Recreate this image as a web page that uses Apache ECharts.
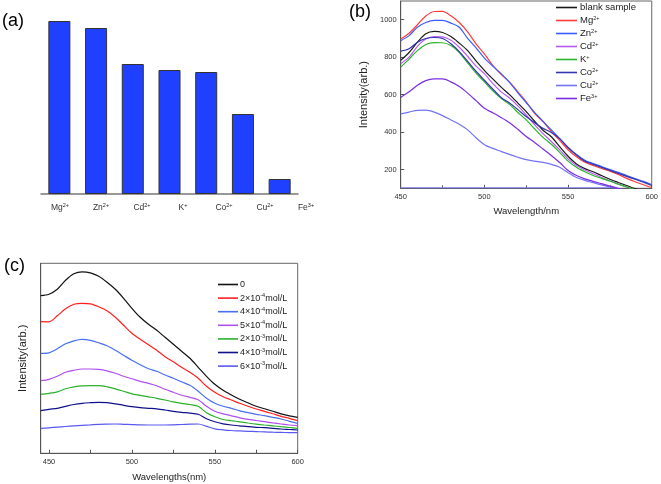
<!DOCTYPE html>
<html><head><meta charset="utf-8">
<script src="https://cdn.jsdelivr.net/npm/echarts@6/dist/echarts.min.js"></script>
<style>html,body{margin:0;padding:0;background:#fff}#c{width:661px;height:484px}</style>
</head><body><div id="c"></div><script>
// ---- Panel (a)
const ionCategories = ['Mg2+','Zn2+','Cd2+','K+','Co2+','Cu2+','Fe3+'];
const barValues = [173,166,130,124,122,80,15];

// ---- Panel (b)
const wavelengthsB = [450,455,460,465,470,475,480,485,490,495,500,505,510,515,520,525,530,535,540,545,550,555,560,565,570,575,580,585,590,595,600];
const blankB = [783,825,880,925,938,932,910,875,835,780,730,684,640,600,555,509,458,410,375,322,271,230,205,188,168,148,131,115,98,85,72];
const mgB = [897,928,973,1020,1044,1045,1021,985,935,871,818,756,708,668,615,562,500,456,403,356,306,268,239,222,206,192,174,153,135,119,104];
const znB = [888,915,960,985,997,997,982,960,900,850,795,752,712,665,610,558,505,458,412,365,318,280,250,232,216,200,185,168,152,137,120];
const cdB = [765,800,858,897,910,908,890,853,805,752,712,660,615,582,540,492,440,392,350,305,257,222,198,178,158,139,123,107,92,80,68];
const kB = [747,790,835,868,878,877,862,825,770,715,668,620,580,548,505,465,418,372,335,292,245,212,188,168,153,139,122,107,92,80,68];
const coB = [832,845,880,900,905,900,872,830,778,725,677,630,585,555,520,483,450,420,398,365,318,278,245,228,212,196,180,164,148,132,115];
const cuB = [497,507,516,517,507,488,465,442,412,370,333,313,297,281,266,253,245,238,228,212,183,158,142,130,118,107,98,88,78,68,58];
const feB = [585,615,650,675,684,684,668,643,608,568,527,503,478,450,415,377,345,310,275,238,195,168,150,137,125,112,100,88,78,68,58];
const baselineWl = [450,577];
const baselineB = [103,103];
const seriesNamesB = ['blank sample','Mg2+','Zn2+','Cd2+','K+','Co2+','Cu2+','Fe3+'];
const yLabelsB = [200,400,600,800,1000];
const xLabelsB = [450,500,550,600];

// ---- Panel (c)
const wavelengthsC = [445,450,455,460,465,470,475,480,485,490,495,500,505,510,515,520,525,530,535,540,545,550,555,560,565,570,575,580,585,590,595,600];
const c0 = [157.6,159,164,173,179.5,181.5,180.5,177,171,164,155,145,136,129,123,116,109,102,95,86,77,69,63,58.3,54,50.5,47,44.5,42,39.5,37.5,36];
const c2e4 = [131.6,131.5,137.5,144.5,149,150,149.5,146.5,142.5,136,128,120,114,108.5,103,96.6,91.5,86,81,75,67,61,56.5,53.3,50,47,44.3,42,39.5,37,35,32.6];
const c4e4 = [100,100.5,104.5,109.5,112.5,114,113,110.5,107.5,103,98,93,88.5,84.5,82,78.3,75,71.5,68,62,55,50,47,45,42.5,40.6,39,37.6,36,34.3,32,30];
const c5e4 = [72.6,74,77,81,83,84.3,84.3,84,82.5,80,77,74.5,72,70,67.5,64,61,58,56,53.5,47,42,39.5,37.5,35.5,34,32.8,31.6,30.4,29.3,28.3,27.6];
const c2e3 = [59,60,61.5,64.5,66.5,67.5,67.6,67.6,66.5,64.5,62,59.5,58,56.5,55,53.3,51.5,50,48.8,47,40.5,36.5,33.8,32.6,31.5,30.3,29.2,28.3,27.5,26.6,25.8,25];
const c4e3 = [42.6,44,45,47,48.8,50,50.6,51,50.6,49.5,48,46.6,45.6,45,44.4,43.3,42,41,40.2,39,34.5,31.5,29.5,28.3,27.5,26.6,26,25.6,25,24.3,23.8,23.3];
const c6e3 = [25,25.5,26.2,26.8,27.4,28,28.5,29,29.2,29.3,29,28.7,28.4,28.3,28.3,28.3,28.5,28.8,29.1,29.3,27,24.5,23.5,22.8,22.4,22,21.7,21.4,21.1,20.9,20.7,20.6];
const seriesNamesC = ['0','2×10-4mol/L','4×10-4mol/L','5×10-4mol/L','2×10-3mol/L','4×10-3mol/L','6×10-3mol/L'];
const xLabelsC = [450,500,550,600];
const xTicksC = [450,475,500,525,550,575,600];

const FONT = 'Liberation Sans, Arial, sans-serif';
const zip = (xs, ys) => xs.map((x, i) => [x, ys[i]]);
function richIon(s) {
  const m = s.match(/^([A-Za-z]+)(\d?[+\-])$/);
  return m ? m[1] + '{s|' + m[2] + '}' : s;
}
function richConc(s) {
  const m = s.match(/^(.*10)(-\d)(mol\/L)$/);
  return m ? m[1] + '{s|' + m[2] + '}' + m[3] : s;
}

const colorsB = ['#1a1a1a','#ff3b3b','#3a5cff','#b55cf0','#2db52d','#3535b0','#7373f5','#7a2ee0'];
const dataB = [blankB, mgB, znB, cdB, kB, coB, cuB, feB];
const colorsC = ['#111111','#ff2020','#4a6ff0','#b050f0','#2cb02c','#10108c','#5a5af0'];
const dataC = [c0, c2e4, c4e4, c5e4, c2e3, c4e3, c6e3];

const seriesList = [];
seriesList.push({
  type: 'bar', xAxisIndex: 0, yAxisIndex: 0, data: barValues, barWidth: '60%',
  itemStyle: { color: '#2040ff', borderColor: '#333', borderWidth: 1 }, silent: true
});
seriesList.push({
  name: 'baseline', type: 'line', xAxisIndex: 2, yAxisIndex: 2, data: zip(baselineWl, baselineB),
  symbol: 'none', lineStyle: { color: '#8080f0', width: 1.2 }, silent: true
});
seriesNamesB.forEach((n, i) => {
  seriesList.push({
    name: n, type: 'line', xAxisIndex: 2, yAxisIndex: 2, data: zip(wavelengthsB, dataB[i]),
    symbol: 'none', smooth: 0.3, color: colorsB[i], lineStyle: { color: colorsB[i], width: 1.2 }, silent: true
  });
});
seriesNamesC.forEach((n, i) => {
  seriesList.push({
    name: n, type: 'line', xAxisIndex: 3, yAxisIndex: 3, data: zip(wavelengthsC, dataC[i]),
    symbol: 'none', smooth: 0.3, color: colorsC[i], lineStyle: { color: colorsC[i], width: 1.2 }, silent: true
  });
});

const supRich = {
  s: { fontSize: 5.5, lineHeight: 6, verticalAlign: 'top', fontFamily: FONT, color: '#222' }
};

const chart = echarts.init(document.getElementById('c'), null, { renderer: 'canvas' });
chart.setOption({
  animation: false,
  backgroundColor: '#fff',
  textStyle: { fontFamily: FONT },
  graphic: [
    { type: 'text', left: 2, top: 12, style: { text: '(a)', fontSize: 18, fontFamily: FONT, fill: '#000' } },
    { type: 'text', left: 349, top: 3, style: { text: '(b)', fontSize: 18, fontFamily: FONT, fill: '#000' } },
    { type: 'text', left: 4, top: 257, style: { text: '(c)', fontSize: 18, fontFamily: FONT, fill: '#000' } }
  ],
  legend: [
    {
      data: seriesNamesB, orient: 'vertical', left: 556, top: 2, padding: 0, icon: 'rect', itemWidth: 21, itemHeight: 1.6, itemGap: 2,
      selectedMode: false, formatter: n => richIon(n),
      textStyle: { fontSize: 9.5, lineHeight: 11, color: '#222', fontFamily: FONT, padding: [0, 0, 0, -2], rich: supRich }
    },
    {
      data: seriesNamesC, orient: 'vertical', left: 218, top: 279, padding: 0, icon: 'rect', itemWidth: 20, itemHeight: 1.6, itemGap: 2.6,
      selectedMode: false, formatter: n => richConc(n),
      textStyle: { fontSize: 9, lineHeight: 11, color: '#222', fontFamily: FONT, padding: [0, 0, 0, -3], rich: supRich }
    }
  ],
  grid: [
    { left: 41, top: 14, width: 257, height: 180 },
    { left: 39.5, top: 14, width: 287, height: 180 },
    { left: 400.7, top: 1, width: 252.3, height: 187.3, show: true, borderColor: '#666', borderWidth: 1 },
    { left: 40.7, top: 263.3, width: 257, height: 190, show: true, borderColor: '#666', borderWidth: 1 }
  ],
  xAxis: [
    { type: 'category', gridIndex: 0, data: ionCategories, boundaryGap: true,
      axisLabel: { show: false }, axisTick: { show: false },
      axisLine: { lineStyle: { color: '#777', width: 1.5 } } },
    { type: 'category', gridIndex: 1, data: ionCategories, boundaryGap: true,
      axisLine: { show: false }, axisTick: { show: false },
      axisLabel: { interval: 0, margin: 8, fontSize: 8.5, lineHeight: 12, color: '#333', formatter: v => richIon(v), rich: supRich } },
    { type: 'value', gridIndex: 2, min: 450, max: 600, interval: 50,
      axisLine: { lineStyle: { color: '#555' } },
      axisTick: { inside: true, length: 3.5, lineStyle: { color: '#555' } },
      minorTick: { show: true, splitNumber: 2, length: 3, lineStyle: { color: '#555' } },
      splitLine: { show: false },
      axisLabel: { fontSize: 7.5, color: '#333', margin: 5, customValues: xLabelsB, formatter: v => String(v) },
      name: 'Wavelength/nm', nameLocation: 'middle', nameGap: 18,
      nameTextStyle: { fontSize: 9.5, color: '#222' } },
    { type: 'value', gridIndex: 3, min: 445, max: 600,
      axisLine: { lineStyle: { color: '#555' } },
      axisTick: { inside: true, length: 3.5, customValues: xTicksC, lineStyle: { color: '#555' } },
      splitLine: { show: false },
      axisLabel: { fontSize: 7.5, color: '#333', margin: 4.5, customValues: xLabelsC, formatter: v => String(v) },
      name: 'Wavelengths(nm)', nameLocation: 'middle', nameGap: 19,
      nameTextStyle: { fontSize: 9.5, color: '#222' } }
  ],
  yAxis: [
    { type: 'value', gridIndex: 0, min: 0, max: 180, show: false },
    { type: 'value', gridIndex: 1, min: 0, max: 1, show: false },
    { type: 'value', gridIndex: 2, min: 100, max: 1100,
      axisLine: { show: true, lineStyle: { color: '#555' } },
      axisTick: { show: true, inside: true, length: 3.5, customValues: yLabelsB, lineStyle: { color: '#555' } },
      splitLine: { show: false },
      axisLabel: { fontSize: 7.5, color: '#333', margin: 4, customValues: yLabelsB, formatter: v => String(v) },
      name: 'Intensity(arb.)', nameLocation: 'middle', nameGap: 31,
      nameTextStyle: { fontSize: 11, color: '#222' } },
    { type: 'value', gridIndex: 3, min: 0, max: 190,
      axisLine: { show: true, lineStyle: { color: '#555' } },
      axisTick: { show: false }, axisLabel: { show: false }, splitLine: { show: false },
      name: 'Intensity(arb.)', nameLocation: 'middle', nameGap: 12,
      nameTextStyle: { fontSize: 11, color: '#222' } }
  ],
  series: seriesList
});
</script></body></html>
